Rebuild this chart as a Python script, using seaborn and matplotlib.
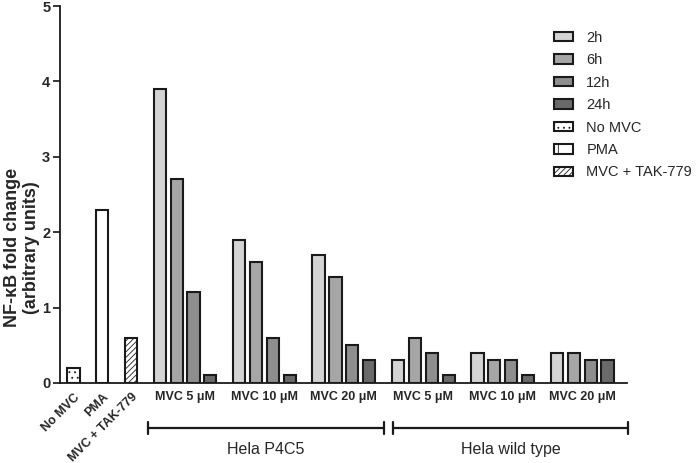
import pandas as pd
import matplotlib.pyplot as plt
import seaborn as sns

# values
controls = ["No MVC", "PMA", "MVC + TAK-779"]
control_values = [0.2, 2.3, 0.6]
times = ["2h", "6h", "12h", "24h"]
doses = ["MVC 5 \u03bcM", "MVC 10 \u03bcM", "MVC 20 \u03bcM"]
p4c5_values = [[3.9, 2.7, 1.2, 0.1],
               [1.9, 1.6, 0.6, 0.1],
               [1.7, 1.4, 0.5, 0.3]]
wt_values = [[0.3, 0.6, 0.4, 0.1],
             [0.4, 0.3, 0.3, 0.1],
             [0.4, 0.4, 0.3, 0.3]]
cell_lines = ["Hela P4C5", "Hela wild type"]

sns.set_style("ticks")
plt.rcParams['font.family'] = ['Liberation Sans', 'DejaVu Sans']
plt.rcParams['hatch.linewidth'] = 0.6

# layout of the bars along x
control_pos = [0.8, 2.5, 4.2]
group_start = [5.9 + 4.7 * i for i in range(6)]

rows = []
for name, val, p in zip(controls, control_values, control_pos):
    rows.append({"pos": p, "value": val, "series": name})
all_groups = p4c5_values + wt_values
for g, vals in zip(group_start, all_groups):
    for k, (t, v) in enumerate(zip(times, vals)):
        rows.append({"pos": g + k, "value": v, "series": t})
df = pd.DataFrame(rows)

legend_order = times + controls
palette = {"2h": "#d4d4d4", "6h": "#a6a6a6", "12h": "#8e8e8e", "24h": "#6a6a6a",
           "No MVC": "white", "PMA": "white", "MVC + TAK-779": "white"}
hatches = {"No MVC": "...", "PMA": "|", "MVC + TAK-779": "//////"}

fig = plt.figure(figsize=(7, 4.63), dpi=100)
ax = fig.add_axes([0.0857, 0.173, 0.81, 0.814])

sns.barplot(data=df, x="pos", y="value", hue="series", hue_order=legend_order,
            palette=palette, dodge=False, native_scale=True, width=0.72,
            saturation=1, errorbar=None, edgecolor="#1a1a1a", linewidth=1.5,
            legend=False, ax=ax)

for name, cont in zip(legend_order, ax.containers):
    if name in hatches:
        for p in cont:
            p.set_hatch(hatches[name])

ax.set_xlim(0, 33.55)
ax.set_ylim(0, 5)
ax.set_yticks(range(6))
ax.set_yticklabels([str(i) for i in range(6)], fontweight="bold", fontsize=10.5)
ax.tick_params(axis="y", length=5, width=1.3, direction="out", pad=2)
ax.set_ylabel("NF-\u03baB fold change\n(arbitrary units)", fontweight="bold", fontsize=13,
              linespacing=1.1)
ax.yaxis.set_label_coords(-0.036, 0.36)

group_centers = [g + 1.5 for g in group_start]
ax.set_xticks(control_pos + group_centers)
ax.set_xticklabels(controls + doses * 2, fontweight="bold", fontsize=9)
ax.tick_params(axis="x", length=0, pad=6)
for lab in ax.get_xticklabels()[:3]:
    lab.set_rotation(45)
    lab.set_ha("right")
    lab.set_rotation_mode("anchor")
ax.set_xlabel("")

sns.despine(ax=ax)
for s in ["left", "bottom"]:
    ax.spines[s].set_linewidth(1.3)
    ax.spines[s].set_color("#1a1a1a")

# brackets below groups
tr = ax.get_xaxis_transform()
spans = [(group_start[0] - 0.7, group_start[2] + 3.9),
         (group_start[3] - 0.3, group_start[5] + 4.2)]
for (a, b), name in zip(spans, cell_lines):
    ax.plot([a, b], [-0.119, -0.119], transform=tr, clip_on=False, color="#1a1a1a", lw=1.6)
    for x in (a, b):
        ax.plot([x, x], [-0.135, -0.103], transform=tr, clip_on=False, color="#1a1a1a", lw=1.6)
    ax.text((a + b) / 2, -0.178, name, transform=tr, ha="center", va="center", fontsize=11.5)

fig.legend(ax.containers, legend_order, loc="upper left",
           bbox_to_anchor=(0.772, 0.962), frameon=False, fontsize=10.5,
           handlelength=1.35, handleheight=0.6, labelspacing=0.58, handletextpad=0.9)

fig.savefig("out.png", dpi=100)
